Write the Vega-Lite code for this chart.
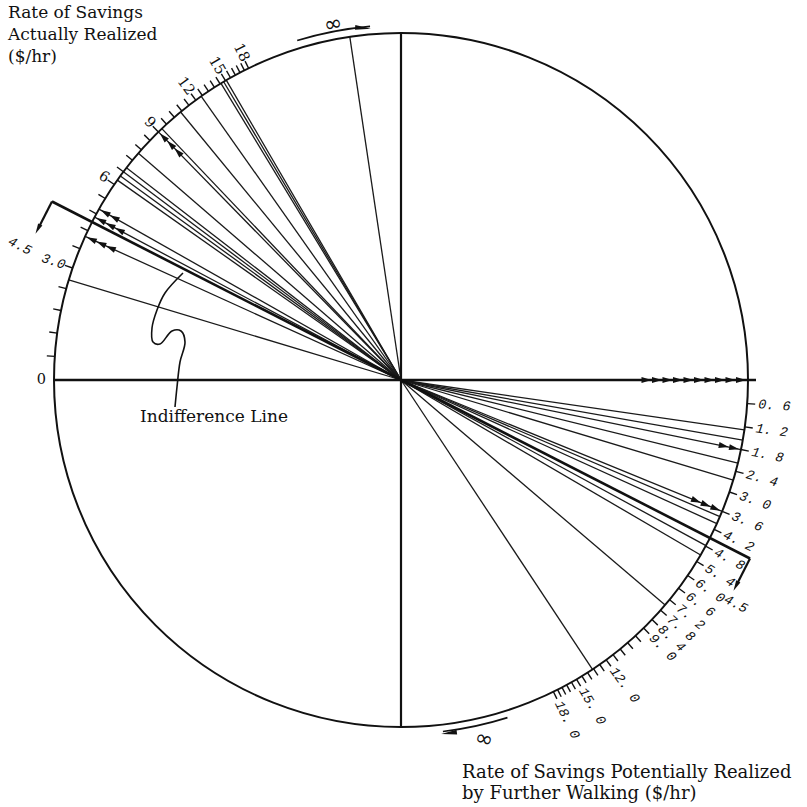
{
"$schema":"https://vega.github.io/schema/vega-lite/v6.json",
"width":807,"height":807,"autosize":"none","padding":0,"background":"#ffffff",
"config":{"view":{"stroke":null}},
"datasets":{
 "rays":[
  {"v":2.65,"q":"UL"},{"v":4.0,"q":"UL"},{"v":4.68,"q":"UL"},{"v":4.98,"q":"UL"},{"v":6.2,"q":"UL"},{"v":6.4,"q":"UL"},{"v":6.6,"q":"UL"},{"v":6.8,"q":"UL"},{"v":7.6,"q":"UL"},{"v":9.0,"q":"UL"},{"v":9.25,"q":"UL"},{"v":10.7,"q":"UL"},{"v":12.5,"q":"UL"},{"v":14.5,"q":"UL"},{"v":14.8,"q":"UL"},{"v":15.1,"q":"UL"},{"v":59,"q":"UL"},
  {"v":1.28,"q":"LR"},{"v":1.55,"q":"LR"},{"v":1.8,"q":"LR"},{"v":2.17,"q":"LR"},{"v":2.65,"q":"LR"},{"v":3.6,"q":"LR"},{"v":3.77,"q":"LR"},{"v":4.0,"q":"LR"},{"v":4.78,"q":"LR"},{"v":5.14,"q":"LR"},{"v":7.5,"q":"LR"},{"v":13.3,"q":"LR"}
 ],
 "ticks":[{"v":0.6},{"v":1.2},{"v":1.8},{"v":2.4},{"v":3.0},{"v":3.6},{"v":4.2},{"v":4.8},{"v":5.4},{"v":6.0},{"v":6.6},{"v":7.2},{"v":7.8},{"v":8.4},{"v":9.0},{"v":9.6},{"v":10.2},{"v":10.8},{"v":11.4},{"v":12.0},{"v":12.6},{"v":13.2},{"v":13.8},{"v":14.4},{"v":15.0},{"v":15.6},{"v":16.2},{"v":16.8},{"v":17.4},{"v":18.0}],
 "arrows":[
  {"v":0,"q":"LR","k":1},{"v":0,"q":"LR","k":2},{"v":0,"q":"LR","k":3},{"v":0,"q":"LR","k":4},{"v":0,"q":"LR","k":5},{"v":0,"q":"LR","k":6},{"v":0,"q":"LR","k":7},{"v":0,"q":"LR","k":8},{"v":0,"q":"LR","k":9},{"v":0,"q":"LR","k":10},
  {"v":1.8,"q":"LR","k":1},{"v":1.8,"q":"LR","k":2},
  {"v":3.6,"q":"LR","k":1},{"v":3.6,"q":"LR","k":2},{"v":3.6,"q":"LR","k":3},
  {"v":4.0,"q":"UL","k":1},{"v":4.0,"q":"UL","k":2},{"v":4.0,"q":"UL","k":3},
  {"v":4.68,"q":"UL","k":1},{"v":4.68,"q":"UL","k":2},{"v":4.68,"q":"UL","k":3},
  {"v":4.98,"q":"UL","k":1},{"v":4.98,"q":"UL","k":2},
  {"v":9.0,"q":"UL","k":1},{"v":9.0,"q":"UL","k":2},{"v":9.0,"q":"UL","k":3}
 ],
 "labelsLR":[{"v":0.6,"label":"0. 6"},{"v":1.2,"label":"1. 2"},{"v":1.8,"label":"1. 8"},{"v":2.4,"label":"2. 4"},{"v":3.0,"label":"3. 0"},{"v":3.6,"label":"3. 6"},{"v":4.2,"label":"4. 2"},{"v":4.8,"label":"4. 8"},{"v":5.4,"label":"5. 4"},{"v":6.0,"label":"6. 0"},{"v":6.6,"label":"6. 6"},{"v":7.2,"label":"7. 2"},{"v":7.8,"label":"7. 8"},{"v":8.4,"label":"8. 4"},{"v":9.0,"label":"9. 0"},{"v":12.0,"label":"12. 0"},{"v":15.0,"label":"15. 0"},{"v":18.0,"label":"18. 0"}],
 "labelsUL":[{"v":0,"label":"0"},{"v":6,"label":"6"},{"v":9,"label":"9"},{"v":12,"label":"12"},{"v":15,"label":"15"},{"v":18,"label":"18"}],
 "labelsULi":[{"v":3.0,"label":"3.0"}],
 "bracket":[{"v":4.5,"q":"UL"},{"v":4.5,"q":"LR"}],
 "curve":[{"i":1,"x":-218,"y":107},{"i":2,"x":-236,"y":87},{"i":3,"x":-244,"y":70},{"i":4,"x":-249,"y":52},{"i":5,"x":-248,"y":38},{"i":6,"x":-241,"y":36},{"i":7,"x":-229,"y":49},{"i":8,"x":-220,"y":49},{"i":9,"x":-216,"y":38},{"i":10,"x":-221,"y":18},{"i":11,"x":-224,"y":-7},{"i":12,"x":-226,"y":-27}]
},
"layer":[
 {"data":{"name":"rays"},
  "transform":[{"calculate":"atan(datum.v/8.8)","as":"a"},{"calculate":"datum.q=='LR'?1:-1","as":"s"},{"calculate":"datum.s*347*cos(datum.a)","as":"x"},{"calculate":"-datum.s*347*sin(datum.a)","as":"y"}],
  "mark":{"type":"rule","stroke":"#1a1a1a","strokeWidth":1.3},
  "encoding":{"x":{"field":"x","type":"quantitative","scale":{"domain":[-401,406],"nice":false,"zero":false},"axis":null},"y":{"field":"y","type":"quantitative","scale":{"domain":[-427,380],"nice":false,"zero":false},"axis":null},"x2":{"datum":0},"y2":{"datum":0}}},
 {"data":{"name":"bracket"},
  "transform":[{"calculate":"atan(datum.v/8.8)","as":"a"},{"calculate":"datum.q=='LR'?1:-1","as":"s"},{"calculate":"datum.s*392*cos(datum.a)","as":"x"},{"calculate":"-datum.s*392*sin(datum.a)","as":"y"}],
  "mark":{"type":"rule","stroke":"#111","strokeWidth":2.6},
  "encoding":{"x":{"field":"x","type":"quantitative","scale":{"domain":[-401,406],"nice":false,"zero":false},"axis":null},"y":{"field":"y","type":"quantitative","scale":{"domain":[-427,380],"nice":false,"zero":false},"axis":null},"x2":{"datum":0},"y2":{"datum":0}}},
 {"data":{"name":"bracket"},
  "transform":[{"calculate":"atan(datum.v/8.8)","as":"a"},{"calculate":"datum.q=='LR'?1:-1","as":"s"},{"calculate":"datum.s*392*cos(datum.a)","as":"x"},{"calculate":"-datum.s*392*sin(datum.a)","as":"y"},{"calculate":"datum.x-28*sin(datum.a)","as":"xe"},{"calculate":"datum.y-28*cos(datum.a)","as":"ye"}],
  "mark":{"type":"rule","stroke":"#111","strokeWidth":2.2},
  "encoding":{"x":{"field":"x","type":"quantitative","scale":{"domain":[-401,406],"nice":false,"zero":false},"axis":null},"y":{"field":"y","type":"quantitative","scale":{"domain":[-427,380],"nice":false,"zero":false},"axis":null},"x2":{"field":"xe"},"y2":{"field":"ye"}}},
 {"data":{"name":"bracket"},
  "transform":[{"calculate":"atan(datum.v/8.8)","as":"a"},{"calculate":"datum.q=='LR'?1:-1","as":"s"},{"calculate":"datum.s*392*cos(datum.a)-31*sin(datum.a)","as":"x"},{"calculate":"-datum.s*392*sin(datum.a)-31*cos(datum.a)","as":"y"},{"calculate":"90+datum.a*180/PI","as":"rot"}],
  "mark":{"type":"point","shape":"M-1,-0.45L1,0L-1,0.45Z","filled":true,"color":"#111","size":110,"opacity":1},
  "encoding":{"x":{"field":"x","type":"quantitative","scale":{"domain":[-401,406],"nice":false,"zero":false},"axis":null},"y":{"field":"y","type":"quantitative","scale":{"domain":[-427,380],"nice":false,"zero":false},"axis":null},"angle":{"field":"rot","type":"quantitative","scale":null}}},
 {"data":{"values":[{}]},
  "mark":{"type":"rule","stroke":"#111","strokeWidth":2.4},
  "encoding":{"x":{"datum":-347,"type":"quantitative","scale":{"domain":[-401,406],"nice":false,"zero":false},"axis":null},"x2":{"datum":355},"y":{"datum":0,"type":"quantitative","scale":{"domain":[-427,380],"nice":false,"zero":false},"axis":null}}},
 {"data":{"values":[{}]},
  "mark":{"type":"rule","stroke":"#111","strokeWidth":2.2},
  "encoding":{"y":{"datum":-347,"type":"quantitative","scale":{"domain":[-427,380],"nice":false,"zero":false},"axis":null},"y2":{"datum":346},"x":{"datum":0,"type":"quantitative","scale":{"domain":[-401,406],"nice":false,"zero":false},"axis":null}}},
 {"data":{"values":[{}]},
  "mark":{"type":"point","shape":"circle","size":481636,"filled":false,"stroke":"#111","strokeWidth":2,"opacity":1},
  "encoding":{"x":{"datum":0,"type":"quantitative","scale":{"domain":[-401,406],"nice":false,"zero":false},"axis":null},"y":{"datum":0,"type":"quantitative","scale":{"domain":[-427,380],"nice":false,"zero":false},"axis":null}}},
 {"data":{"name":"ticks"},
  "transform":[{"calculate":"atan(datum.v/8.8)","as":"a"},{"calculate":"347*cos(datum.a)","as":"x"},{"calculate":"-347*sin(datum.a)","as":"y"},{"calculate":"355*cos(datum.a)","as":"xe"},{"calculate":"-355*sin(datum.a)","as":"ye"}],
  "mark":{"type":"rule","stroke":"#111","strokeWidth":1.4},
  "encoding":{"x":{"field":"x","type":"quantitative","scale":{"domain":[-401,406],"nice":false,"zero":false},"axis":null},"y":{"field":"y","type":"quantitative","scale":{"domain":[-427,380],"nice":false,"zero":false},"axis":null},"x2":{"field":"xe"},"y2":{"field":"ye"}}},
 {"data":{"name":"ticks"},
  "transform":[{"calculate":"atan(datum.v/8.8)","as":"a"},{"calculate":"-347*cos(datum.a)","as":"x"},{"calculate":"347*sin(datum.a)","as":"y"},{"calculate":"-355*cos(datum.a)","as":"xe"},{"calculate":"355*sin(datum.a)","as":"ye"}],
  "mark":{"type":"rule","stroke":"#111","strokeWidth":1.4},
  "encoding":{"x":{"field":"x","type":"quantitative","scale":{"domain":[-401,406],"nice":false,"zero":false},"axis":null},"y":{"field":"y","type":"quantitative","scale":{"domain":[-427,380],"nice":false,"zero":false},"axis":null},"x2":{"field":"xe"},"y2":{"field":"ye"}}},
 {"data":{"name":"arrows"},
  "transform":[{"calculate":"atan(datum.v/8.8)","as":"a"},{"calculate":"datum.q=='LR'?1:-1","as":"s"},{"calculate":"340-(datum.k-1)*10.5","as":"r"},{"calculate":"datum.s*datum.r*cos(datum.a)","as":"x"},{"calculate":"-datum.s*datum.r*sin(datum.a)","as":"y"},{"calculate":"datum.a*180/PI+(datum.s<0?180:0)","as":"rot"}],
  "mark":{"type":"point","shape":"M-1,-0.6L1,0L-1,0.6Z","filled":true,"color":"#111","size":100,"opacity":1},
  "encoding":{"x":{"field":"x","type":"quantitative","scale":{"domain":[-401,406],"nice":false,"zero":false},"axis":null},"y":{"field":"y","type":"quantitative","scale":{"domain":[-427,380],"nice":false,"zero":false},"axis":null},"angle":{"field":"rot","type":"quantitative","scale":null}}},
 {"data":{"name":"labelsLR"},
  "transform":[{"calculate":"atan(datum.v/8.8)","as":"a"},{"calculate":"358*cos(datum.a)","as":"x"},{"calculate":"-358*sin(datum.a)","as":"y"},{"calculate":"datum.a*180/PI","as":"deg"}],
  "mark":{"type":"text","align":"left","baseline":"middle","font":"Liberation Mono","fontStyle":"italic","fontSize":13.5,"color":"#111"},
  "encoding":{"x":{"field":"x","type":"quantitative","scale":{"domain":[-401,406],"nice":false,"zero":false},"axis":null},"y":{"field":"y","type":"quantitative","scale":{"domain":[-427,380],"nice":false,"zero":false},"axis":null},"text":{"field":"label"},"angle":{"field":"deg","type":"quantitative","scale":null}}},
 {"data":{"name":"labelsUL"},
  "transform":[{"calculate":"atan(datum.v/8.8)","as":"a"},{"calculate":"-355*cos(datum.a)","as":"x"},{"calculate":"355*sin(datum.a)","as":"y"},{"calculate":"datum.a*180/PI","as":"deg"}],
  "mark":{"type":"text","align":"right","baseline":"middle","font":"DejaVu Serif","fontSize":14.5,"color":"#111"},
  "encoding":{"x":{"field":"x","type":"quantitative","scale":{"domain":[-401,406],"nice":false,"zero":false},"axis":null},"y":{"field":"y","type":"quantitative","scale":{"domain":[-427,380],"nice":false,"zero":false},"axis":null},"text":{"field":"label"},"angle":{"field":"deg","type":"quantitative","scale":null}}},
 {"data":{"name":"labelsULi"},
  "transform":[{"calculate":"atan(datum.v/8.8)","as":"a"},{"calculate":"-355*cos(datum.a)","as":"x"},{"calculate":"355*sin(datum.a)","as":"y"},{"calculate":"datum.a*180/PI","as":"deg"}],
  "mark":{"type":"text","align":"right","baseline":"middle","font":"Liberation Mono","fontStyle":"italic","fontSize":13.5,"color":"#111"},
  "encoding":{"x":{"field":"x","type":"quantitative","scale":{"domain":[-401,406],"nice":false,"zero":false},"axis":null},"y":{"field":"y","type":"quantitative","scale":{"domain":[-427,380],"nice":false,"zero":false},"axis":null},"text":{"field":"label"},"angle":{"field":"deg","type":"quantitative","scale":null}}},
 {"data":{"name":"curve"},
  "mark":{"type":"line","interpolate":"catmull-rom","stroke":"#111","strokeWidth":1.6},
  "encoding":{"x":{"field":"x","type":"quantitative","scale":{"domain":[-401,406],"nice":false,"zero":false},"axis":null},"y":{"field":"y","type":"quantitative","scale":{"domain":[-427,380],"nice":false,"zero":false},"axis":null},"order":{"field":"i","type":"quantitative"}}},
 {"data":{"values":[{}]},
  "mark":{"type":"arc","theta":-0.2967,"theta2":-0.0873,"radius":355,"radius2":355,"filled":false,"stroke":"#111","strokeWidth":1.6},
  "encoding":{"x":{"datum":0,"type":"quantitative","scale":{"domain":[-401,406],"nice":false,"zero":false},"axis":null},"y":{"datum":0,"type":"quantitative","scale":{"domain":[-427,380],"nice":false,"zero":false},"axis":null}}},
 {"data":{"values":[{}]},
  "mark":{"type":"arc","theta":2.8362,"theta2":3.0229,"radius":354,"radius2":354,"filled":false,"stroke":"#111","strokeWidth":1.6},
  "encoding":{"x":{"datum":0,"type":"quantitative","scale":{"domain":[-401,406],"nice":false,"zero":false},"axis":null},"y":{"datum":0,"type":"quantitative","scale":{"domain":[-427,380],"nice":false,"zero":false},"axis":null}}},
 {"data":{"values":[{}]},
  "mark":{"type":"point","shape":"M-1,-0.3L1,0L-1,0.3Z","filled":true,"color":"#111","size":250,"opacity":1,"angle":5},
  "encoding":{"x":{"datum":-38,"type":"quantitative","scale":{"domain":[-401,406],"nice":false,"zero":false},"axis":null},"y":{"datum":352,"type":"quantitative","scale":{"domain":[-427,380],"nice":false,"zero":false},"axis":null}}},
 {"data":{"values":[{}]},
  "mark":{"type":"point","shape":"M-1,-0.3L1,0L-1,0.3Z","filled":true,"color":"#111","size":250,"opacity":1,"angle":173},
  "encoding":{"x":{"datum":48,"type":"quantitative","scale":{"domain":[-401,406],"nice":false,"zero":false},"axis":null},"y":{"datum":-353,"type":"quantitative","scale":{"domain":[-427,380],"nice":false,"zero":false},"axis":null}}},
 {"data":{"values":[{}]},
  "mark":{"type":"text","text":"∞","align":"center","baseline":"middle","font":"DejaVu Sans","fontSize":22,"angle":348,"color":"#111"},
  "encoding":{"x":{"datum":-68,"type":"quantitative","scale":{"domain":[-401,406],"nice":false,"zero":false},"axis":null},"y":{"datum":356,"type":"quantitative","scale":{"domain":[-427,380],"nice":false,"zero":false},"axis":null}}},
 {"data":{"values":[{}]},
  "mark":{"type":"text","text":"∞","align":"center","baseline":"middle","font":"DejaVu Sans","fontSize":22,"angle":14,"color":"#111"},
  "encoding":{"x":{"datum":83,"type":"quantitative","scale":{"domain":[-401,406],"nice":false,"zero":false},"axis":null},"y":{"datum":-359,"type":"quantitative","scale":{"domain":[-427,380],"nice":false,"zero":false},"axis":null}}},
 {"data":{"values":[{}]},
  "mark":{"type":"text","text":"4.5","align":"center","baseline":"middle","font":"Liberation Mono","fontStyle":"italic","fontSize":13.5,"angle":27,"color":"#111"},
  "encoding":{"x":{"datum":-381,"type":"quantitative","scale":{"domain":[-401,406],"nice":false,"zero":false},"axis":null},"y":{"datum":134,"type":"quantitative","scale":{"domain":[-427,380],"nice":false,"zero":false},"axis":null}}},
 {"data":{"values":[{}]},
  "mark":{"type":"text","text":"4.5","align":"center","baseline":"middle","font":"Liberation Mono","fontStyle":"italic","fontSize":13.5,"angle":27,"color":"#111"},
  "encoding":{"x":{"datum":335,"type":"quantitative","scale":{"domain":[-401,406],"nice":false,"zero":false},"axis":null},"y":{"datum":-224,"type":"quantitative","scale":{"domain":[-427,380],"nice":false,"zero":false},"axis":null}}},
 {"data":{"values":[{}]},
  "mark":{"type":"text","text":["Rate of Savings","Actually Realized","($/hr)"],"align":"left","baseline":"top","font":"DejaVu Serif","fontSize":17,"lineHeight":22,"color":"#111"},
  "encoding":{"x":{"datum":-393,"type":"quantitative","scale":{"domain":[-401,406],"nice":false,"zero":false},"axis":null},"y":{"datum":375,"type":"quantitative","scale":{"domain":[-427,380],"nice":false,"zero":false},"axis":null}}},
 {"data":{"values":[{}]},
  "mark":{"type":"text","text":["Rate of Savings Potentially Realized","by Further Walking ($/hr)"],"align":"left","baseline":"top","font":"DejaVu Serif","fontSize":18,"lineHeight":21,"color":"#111"},
  "encoding":{"x":{"datum":61,"type":"quantitative","scale":{"domain":[-401,406],"nice":false,"zero":false},"axis":null},"y":{"datum":-384,"type":"quantitative","scale":{"domain":[-427,380],"nice":false,"zero":false},"axis":null}}},
 {"data":{"values":[{}]},
  "mark":{"type":"text","text":"Indifference Line","align":"left","baseline":"alphabetic","font":"DejaVu Serif","fontSize":17,"color":"#111"},
  "encoding":{"x":{"datum":-261,"type":"quantitative","scale":{"domain":[-401,406],"nice":false,"zero":false},"axis":null},"y":{"datum":-42,"type":"quantitative","scale":{"domain":[-427,380],"nice":false,"zero":false},"axis":null}}}
]
}
